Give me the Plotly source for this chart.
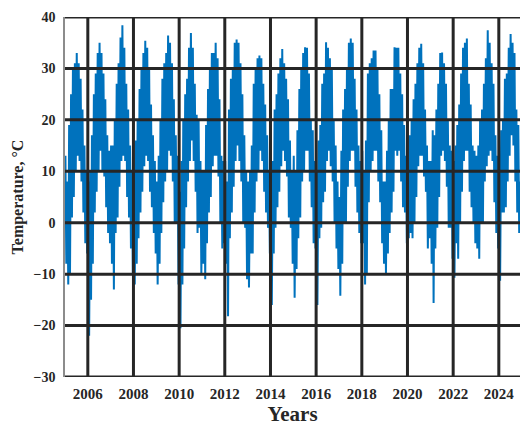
import plotly.graph_objects as go

# Monthly envelope (hourly max / min), per year
YEARS = list(range(2005, 2025))
HI = {
    2005: [13, 8, 19, 25, 30, 31, 33, 31, 28, 22, 15, 10],
    2006: [8, 10, 17, 25, 29, 33, 35, 33, 29, 24, 17, 14],
    2007: [15, 15, 20, 27, 31, 36, 38.4, 34, 27, 22, 15, 10],
    2008: [10, 16, 20, 26, 30, 33, 35.4, 34, 30, 23, 17, 12],
    2009: [8, 13, 20, 28, 31, 33, 36.4, 35, 31, 24, 17, 13],
    2010: [6, 12, 20, 25, 28, 34, 36.9, 34, 27, 21, 20, 12],
    2011: [10, 10, 19, 26, 30, 33, 33, 35, 32, 24, 13, 12],
    2012: [12, 8, 22, 28, 30, 35, 35.6, 35, 31, 25, 17, 10],
    2013: [8, 10, 15, 27, 30, 32, 32.5, 32, 27, 23, 17, 10],
    2014: [10, 12, 22, 25, 29, 32, 33.8, 31, 28, 24, 16, 10],
    2015: [13, 10, 18, 26, 30, 33, 34.1, 34, 29, 20, 18, 12],
    2016: [10, 16, 19, 27, 29, 35.1, 34, 32, 30, 20, 15, 8],
    2017: [5, 14, 22, 26, 30, 35, 35.8, 35, 28, 22, 15, 12],
    2018: [14, 10, 16, 29, 31, 32, 33.5, 33.5, 30, 25, 18, 8],
    2019: [8, 14, 20, 26, 26, 34.1, 34, 34, 29, 25, 19, 13],
    2020: [10, 17, 20, 24, 27, 31, 34, 34.8, 31, 22, 15, 12],
    2021: [12, 18, 17, 22, 27, 33, 33.1, 31, 27, 20, 15, 14],
    2022: [12, 15, 19, 23, 29, 34, 35, 35.8, 27, 23, 15, 14],
    2023: [13, 15, 20, 22, 27, 32, 37.4, 35, 31, 27, 17, 13],
    2024: [10, 18, 20, 28, 29, 34, 36.7, 35, 33, 22, 19, 8],
}
LO = {
    2005: [-8, -12, -10, 1, 5, 10, 13, 12, 8, 2, -4, -6],
    2006: [-22, -15, -8, 2, 6, 10, 14, 10, 9, 3, -2, -4],
    2007: [-8, -13, -2, 1, 7, 12, 13, 12, 5, 1, -5, -10],
    2008: [-12, -8, -3, 2, 6, 11, 13, 12, 6, 3, -2, -6],
    2009: [-12, -8, -2, 4, 8, 10, 14, 13, 8, 0, 0, -12],
    2010: [-20.5, -12, -5, 3, 8, 12, 16, 12, 6, -2, -1, -10],
    2011: [-8, -11, -4, 2, 5, 11, 13, 13, 9, 0, -5, -4],
    2012: [-8, -18.2, -3, 2, 7, 12, 15, 12, 8, 0, -1, -11],
    2013: [-12.6, -6, -6, 2, 8, 10, 14, 12, 6, 2, -1, -6],
    2014: [-16, -6, -1, 3, 6, 11, 14, 12, 9, 1, -1, -8],
    2015: [-14.6, -9, -3, 1, 8, 10, 14, 14, 8, 3, -4, -5],
    2016: [-16, -3, -1, 4, 6, 12, 14, 11, 8, 0, -5, -9],
    2017: [-14.2, -8, 0, 0, 7, 12, 14, 14, 7, 2, -2, -4],
    2018: [-4, -12, -10, 4, 10, 12, 14, 14, 8, 4, -4, -8],
    2019: [-10, -6, -2, 2, 6, 14, 13, 14, 8, 3, 2, -4],
    2020: [-3, -2, -3, 0, 5, 11, 13, 13, 9, 6, -5, -3],
    2021: [-8, -15.6, -5, -1, 5, 13, 14, 12, 7, -1, -1, -7],
    2022: [-10.7, -4, -7, 0, 6, 12, 14, 14, 6, 3, 0, -4],
    2023: [-5, -7, 0, 0, 8, 11, 13, 14, 12, 4, -2, -5],
    2024: [-11.3, 2, 2, 3, 8, 13, 17, 15, 8, 2, -2, 0],
}
XTICK_YEARS = list(range(2006, 2025, 2))
YTICKS = list(range(-30, 41, 10))
X_RANGE = ["2005-01-01", "2024-12-05"]

xs, ys = [], []
for yr in YEARS:
    for m, (h, l) in enumerate(zip(HI[yr], LO[yr]), start=1):
        xs.append(f"{yr}-{m:02d}-08")
        ys.append(h)
        xs.append(f"{yr}-{m:02d}-22")
        ys.append(l)

FONT = "Liberation Serif"
GRID = "#262626"

fig = go.Figure()
fig.add_trace(go.Scatter(x=xs, y=ys, mode="lines",
                         line=dict(color="#0072BD", width=2),
                         showlegend=False, hoverinfo="skip"))

shapes = []
for yr in XTICK_YEARS:
    d = f"{yr}-01-01"
    shapes.append(dict(type="line", xref="x", yref="paper", x0=d, x1=d, y0=0, y1=1,
                       line=dict(color=GRID, width=3), layer="above"))
for v in YTICKS:
    shapes.append(dict(type="line", xref="paper", yref="y", x0=0, x1=1, y0=v, y1=v,
                       line=dict(color=GRID, width=3), layer="above"))

fig.update_layout(
    width=520, height=426,
    margin=dict(l=65, r=0, t=17, b=49),
    paper_bgcolor="white", plot_bgcolor="white",
    shapes=shapes,
    font=dict(family=FONT, color="#262626"),
    xaxis=dict(
        type="date", range=X_RANGE, automargin=False,
        tickvals=[f"{y}-01-01" for y in XTICK_YEARS],
        ticktext=[str(y) for y in XTICK_YEARS],
        tickfont=dict(family=FONT, size=15, color="#262626", weight="bold"),
        showgrid=False, zeroline=False, ticks="", ticklabelstandoff=6,
        title=dict(text="Years",
                   font=dict(family=FONT, size=21, color="#262626", weight="bold"),
                   standoff=0),
    ),
    yaxis=dict(
        range=[-30, 40], tickvals=YTICKS, automargin=False,
        tickfont=dict(family=FONT, size=14, color="#262626", weight="bold"),
        showgrid=False, zeroline=False, ticks="", ticklabelstandoff=5,
        showline=True, linecolor="#8c8c8c", linewidth=1.5, layer="above traces",
        title=dict(text="Temperature, °C",
                   font=dict(family=FONT, size=16, color="#262626", weight="bold"),
                   standoff=6),
    ),
)

fig.write_html("out.html",
               config={"displayModeBar": False},
               post_script="document.body.style.margin='0';document.body.style.overflow='hidden';")
